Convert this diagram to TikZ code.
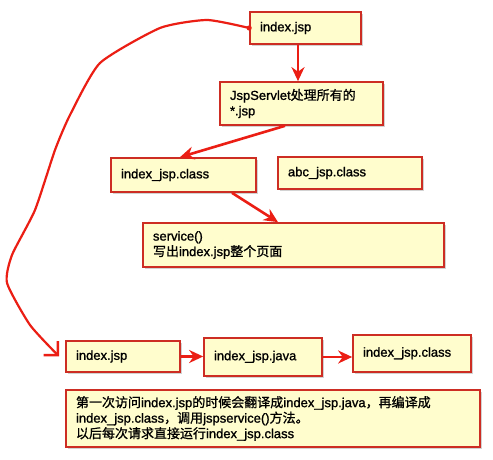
\documentclass[tikz,border=0pt]{standalone}
\usepackage{fontspec}
\setmainfont{Liberation Sans}[FakeBold=1.2]
\newfontfamily\cjkfont{Noto Sans CJK SC}[FakeBold=1.0]
\newcommand{\cj}[1]{{\cjkfont #1}}
\usetikzlibrary{shadows,arrows.meta}
\definecolor{boxfill}{RGB}{255,253,205}
\definecolor{boxline}{RGB}{205,45,35}
\definecolor{arrred}{RGB}{235,30,20}
\tikzset{
  box/.style={draw=boxline, fill=boxfill, line width=1.7pt, rectangle,
    drop shadow={opacity=0.35, shadow xshift=1.8pt, shadow yshift=-1.8pt},
    inner xsep=10pt, inner ysep=3pt, align=left, font=\fontsize{13}{15.5}\selectfont},
  arr/.style={draw=arrred, line width=2.6pt, -{Stealth[length=14pt,width=13pt]}},
  curvearr/.style={draw=arrred, line width=2.2pt, line join=round, -{Straight Barb[length=10pt,width=20pt,line width=2.6pt]}}
}
\begin{document}
\begin{tikzpicture}[x=1pt,y=1pt]
\useasboundingbox[fill=white] (0,0) rectangle (493,460);
\node[box, minimum width=111pt, minimum height=32pt, text width=91pt] (b1) at (305.5,432) {index.jsp};
\node[box, minimum width=163pt, minimum height=43pt, text width=143pt] (b2) at (301.5,356.5) {JspServlet\cj{处理所有的}\\\relax *.jsp};
\node[box, minimum width=145pt, minimum height=34pt, text width=125pt] (b3) at (183.5,285) {index\_jsp.class};
\node[box, minimum width=144pt, minimum height=32pt, text width=124pt] (b4) at (350,287) {abc\_jsp.class};
\node[box, minimum width=301pt, minimum height=44pt, text width=281pt] (b5) at (293.5,215) {service()\\\cj{写出}index.jsp\cj{整个页面}};
\node[box, minimum width=114pt, minimum height=31pt, text width=94pt] (b6) at (123,103.5) {index.jsp};
\node[box, minimum width=118pt, minimum height=38pt, text width=98pt] (b7) at (263,103) {\raisebox{3pt}{index\_jsp.java}};
\node[box, minimum width=118pt, minimum height=37pt, text width=98pt] (b8) at (412,106.5) {\raisebox{3pt}{index\_jsp.class}};
\node[box, minimum width=414pt, minimum height=57pt, text width=394pt] (b9) at (273,41.5) {\cj{第一次访问}index.jsp\cj{的时候会翻译成}index\_jsp.java\cj{，再编译成}\\index\_jsp.class\cj{，调用}jspservice()\cj{方法。}\\\cj{以后每次请求直接运行}index\_jsp.class};

\draw[arr] ([xshift=-7.5pt]b1.south) -- ([xshift=-7.5pt]b1.south |- b2.north);
\draw[arr] ([xshift=-16.5pt]b2.south) -- ([xshift=-3.5pt]b3.north);
\draw[arr] ([xshift=48.5pt]b3.south) -- ([xshift=-15.5pt]b5.north);
\draw[arr] (b6.east) -- (b7.west |- b6.east);
\draw[arr] (b7.east) -- (b8.west |- b7.east);
\fill[arrred] (b1.west) circle (2.6pt);
\draw[curvearr] plot[smooth, tension=0.35] coordinates {(b1.west) (207,440) (160,432) (100,397) (70,345) (55,310) (35,250) (12,205) (7,177) (30,135) ([xshift=-6pt]b6.west)};
\end{tikzpicture}
\end{document}
